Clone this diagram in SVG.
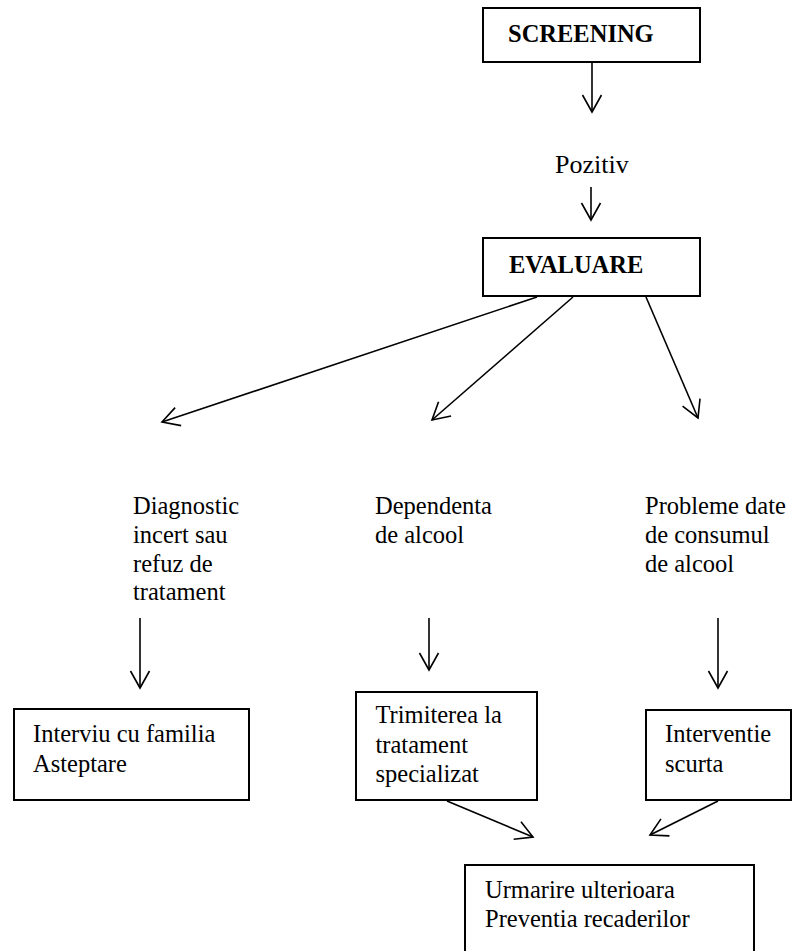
<svg xmlns="http://www.w3.org/2000/svg" width="796" height="951" viewBox="0 0 796 951">
<style>
.box{fill:#fff;stroke:#000;stroke-width:2}
text{font-family:'Liberation Serif','Times New Roman',Tinos,'DejaVu Serif',serif;font-size:24.5px;fill:#000}
.b{font-weight:bold}
.c line{stroke:#000;stroke-width:1.6;marker-end:url(#v)}
</style>
<defs>
<marker id="v" markerUnits="userSpaceOnUse" viewBox="-20 -12 24 24" markerWidth="24" markerHeight="24" refX="0" refY="0" orient="auto">
<path d="M-17,-9.5 L0,0 L-17,9.5" fill="none" stroke="#000" stroke-width="1.6"/>
</marker>
</defs>
<rect width="796" height="951" fill="#fff"/>
<g id="screening"><rect class="box" x="483" y="8" width="217" height="54"/><text class="b" x="508" y="42">SCREENING</text></g>
<g id="pozitiv"><text x="555" y="173" style="font-size:26px">Pozitiv</text></g>
<g id="evaluare"><rect class="box" x="483" y="238" width="217" height="58"/><text class="b" x="509" y="273">EVALUARE</text></g>
<g id="diagnostic"><text><tspan x="133" y="514">Diagnostic</tspan><tspan x="133" y="543">incert sau</tspan><tspan x="133" y="571.5">refuz de</tspan><tspan x="133" y="600">tratament</tspan></text></g>
<g id="dependenta"><text><tspan x="375" y="514">Dependenta</tspan><tspan x="375" y="543">de alcool</tspan></text></g>
<g id="probleme"><text><tspan x="645" y="514">Probleme date</tspan><tspan x="645" y="543">de consumul</tspan><tspan x="645" y="572">de alcool</tspan></text></g>
<g id="interviu"><rect class="box" x="14" y="709" width="235" height="91"/><text><tspan x="33" y="742">Interviu cu familia</tspan><tspan x="33" y="772">Asteptare</tspan></text></g>
<g id="trimiterea"><rect class="box" x="356" y="692" width="181" height="108"/><text><tspan x="375.5" y="723">Trimiterea la</tspan><tspan x="375.5" y="752.5">tratament</tspan><tspan x="375.5" y="782">specializat</tspan></text></g>
<g id="interventie"><rect class="box" x="646" y="710" width="145" height="90"/><text><tspan x="665" y="742">Interventie</tspan><tspan x="665" y="772">scurta</tspan></text></g>
<g id="urmarire"><rect class="box" x="465" y="865" width="289" height="100"/><text><tspan x="485" y="898">Urmarire ulterioara</tspan><tspan x="485" y="927">Preventia recaderilor</tspan></text></g>
<g id="connectors" class="c">
<line x1="592" y1="62" x2="592" y2="112"/>
<line x1="591" y1="187" x2="591" y2="220"/>
<line x1="537" y1="297" x2="162" y2="422"/>
<line x1="573" y1="297" x2="432" y2="420"/>
<line x1="646" y1="297" x2="698" y2="418"/>
<line x1="140" y1="618" x2="140" y2="688"/>
<line x1="429" y1="618" x2="429" y2="670"/>
<line x1="718" y1="618" x2="718" y2="688"/>
<line x1="447" y1="801" x2="533" y2="837"/>
<line x1="718" y1="801" x2="650" y2="835"/>
</g>
</svg>
